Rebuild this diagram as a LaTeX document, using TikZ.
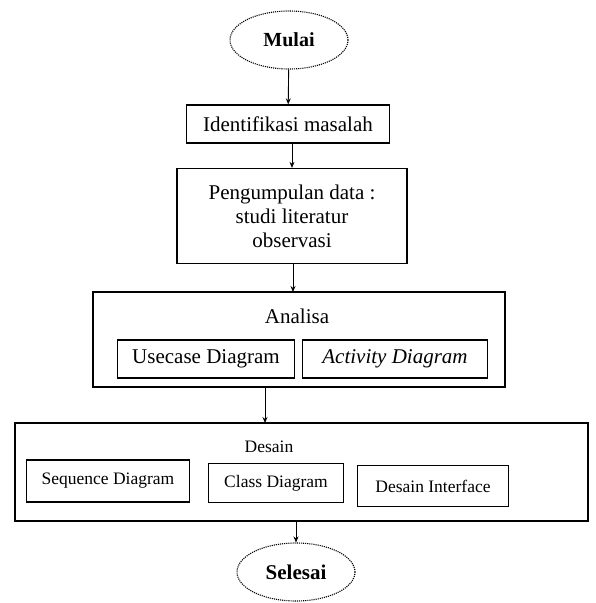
\documentclass[tikz,border=0pt]{standalone}
\usepackage{fontspec}
\setmainfont{Liberation Serif}
\usetikzlibrary{shapes.geometric,arrows.meta}
\begin{document}
\begin{tikzpicture}[x=1pt,y=-1pt,
  term/.style={ellipse,draw,densely dotted,line width=1.1pt,minimum width=118pt,minimum height=58pt,font=\fontsize{20}{22}\selectfont\bfseries},
  box/.style={draw,line width=1.3pt,align=center,inner sep=0pt},
  big/.style={font=\fontsize{21}{24}\selectfont},
  small/.style={font=\fontsize{17.5}{20}\selectfont},
  flow/.style={-{Stealth[length=6pt,width=5pt]},line width=0.9pt}]
\useasboundingbox (0,0) rectangle (595,603);
\node[term] (start) at (289,40) {Mulai};
\node[box,big,minimum width=203pt,minimum height=38pt] (idm) at (288,124) {Identifikasi masalah};
\node[box,big,minimum width=230pt,minimum height=95pt] (data) at (292,216) {Pengumpulan data :\\studi literatur\\observasi};
\draw[box] (93,292) rectangle (505,387);
\coordinate (anTop) at (293,292);
\coordinate (anBot) at (265,387);
\node[big] (analisa) at (297,316) {Analisa};
\node[box,big,minimum width=177pt,minimum height=38pt] (uc) at (206,359) {Usecase Diagram};
\node[box,big,minimum width=185pt,minimum height=38pt] (act) at (395,359) {\itshape Activity Diagram};
\draw[box] (15,423) rectangle (588,521);
\coordinate (deTop) at (265,423);
\coordinate (deBot) at (296,521);
\node[small] (desain) at (269,447) {Desain};
\node[box,small,minimum width=163pt,minimum height=42pt] (seq) at (108,481) {Sequence Diagram};
\node[box,small,minimum width=135pt,minimum height=39pt] (cls) at (276,483) {Class Diagram};
\node[box,small,minimum width=151pt,minimum height=41pt] (ui) at (433,486) {Desain Interface};
\node[term,font=\fontsize{21}{24}\selectfont\bfseries] (end) at (296,572) {Selesai};
\draw[flow] (start) -- (idm);
\draw[flow] (idm.south) ++(4,0) coordinate (a1) -- (a1 |- data.north);
\draw[flow] (data.south) ++(1,0) coordinate (a2) -- (anTop);
\draw[flow] (anBot) -- (deTop);
\draw[flow] (deBot) -- (end);
\end{tikzpicture}
\end{document}
